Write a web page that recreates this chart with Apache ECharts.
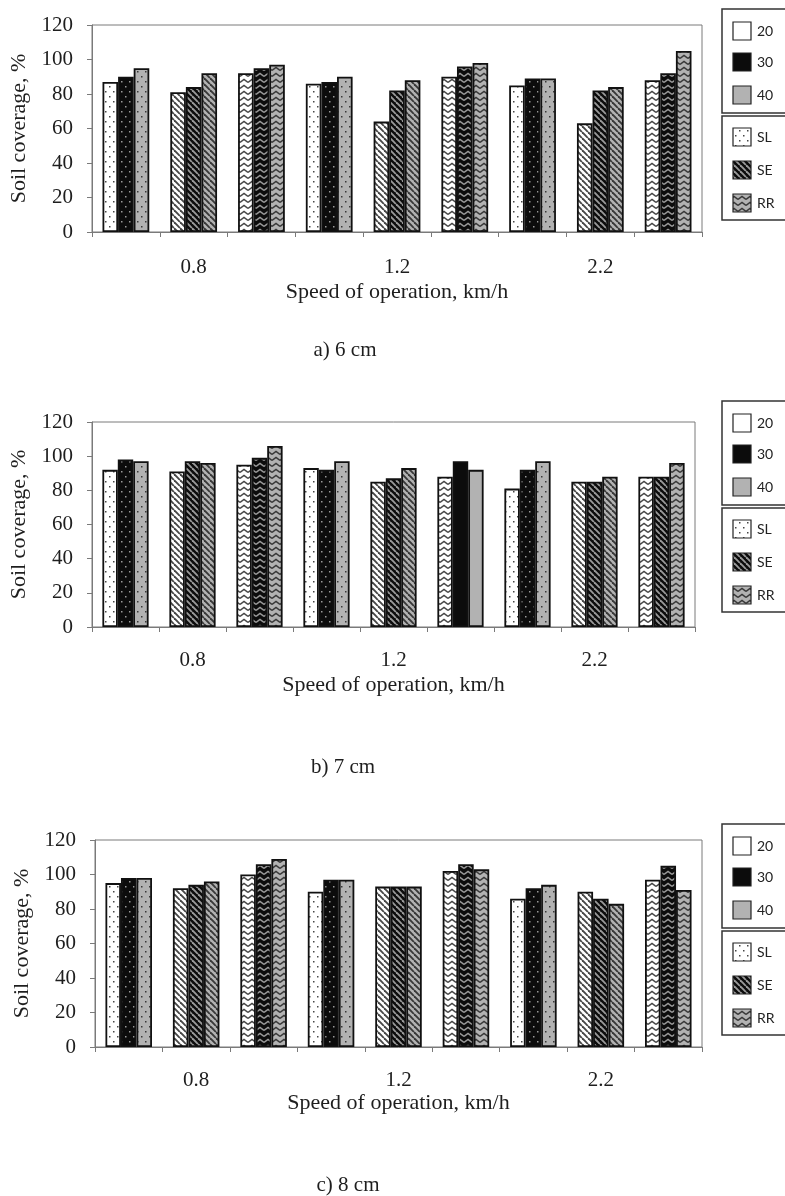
<!DOCTYPE html>
<html>
<head>
<meta charset="utf-8">
<script src="https://cdn.jsdelivr.net/npm/echarts@6/dist/echarts.min.js"></script>
<style>
  html, body { margin: 0; padding: 0; background: #ffffff; }
  #chart { width: 785px; height: 1196px; }
</style>
</head>
<body>
<div id="chart"></div>
<script>
// Speeds and implements form the 9 categories of each panel (speed × implement)
const speeds = ['0.8', '1.2', '2.2'];
const implementsList = ['SL', 'SE', 'RR'];
const depthSeries = ['20', '30', '40'];
const panelTitles = ['a) 6 cm', 'b) 7 cm', 'c) 8 cm'];
const yTicks = [0, 20, 40, 60, 80, 100, 120];

// Soil coverage, % — panel a) 6 cm
const cov6_20 = [87, 81, 92, 86, 64, 90, 85, 63, 88];
const cov6_30 = [90, 84, 95, 87, 82, 96, 89, 82, 92];
const cov6_40 = [95, 92, 97, 90, 88, 98, 89, 84, 105];

// Soil coverage, % — panel b) 7 cm
const cov7_20 = [92, 91, 95, 93, 85, 88, 81, 85, 88];
const cov7_30 = [98, 97, 99, 92, 87, 97, 92, 85, 88];
const cov7_40 = [97, 96, 106, 97, 93, 92, 97, 88, 96];

// Soil coverage, % — panel c) 8 cm
const cov8_20 = [95, 92, 100, 90, 93, 102, 86, 90, 97];
const cov8_30 = [98, 94, 106, 97, 93, 106, 92, 86, 105];
const cov8_40 = [98, 96, 109, 97, 93, 103, 94, 83, 91];

// Bars in panel b whose texture differs from their category's implement
const textureOverrides7 = { 5: ['RR', 'plain', 'plain'], 8: ['RR', 'SE', 'RR'] };

const panelValues = [
  [cov6_20, cov6_30, cov6_40],
  [cov7_20, cov7_30, cov7_40],
  [cov8_20, cov8_30, cov8_40]
];
const panelOverrides = [{}, textureOverrides7, {}];

const categories = speeds.flatMap(s => implementsList.map(m => s + ' ' + m));

// ---------- fill textures ----------
const shadeBase = { '20': '#ffffff', '30': '#0c0c0c', '40': '#b2b2b2' };
const shadeInk = { '20': '#474747', '30': '#9a9a9a', '40': '#383838' };
const textureCache = {};
function texture(kind, shade) {
  const key = kind + shade;
  if (textureCache[key]) return textureCache[key];
  const base = shadeBase[shade], ink = shadeInk[shade];
  const c = document.createElement('canvas');
  let ctx;
  if (kind === 'SL') {
    c.width = 8; c.height = 10; ctx = c.getContext('2d');
    ctx.fillStyle = base; ctx.fillRect(0, 0, 8, 10);
    ctx.fillStyle = ink;
    ctx.fillRect(1, 1, 1.5, 1.5); ctx.fillRect(5, 6, 1.5, 1.5);
  } else if (kind === 'SE') {
    c.width = 6; c.height = 6; ctx = c.getContext('2d');
    ctx.fillStyle = base; ctx.fillRect(0, 0, 6, 6);
    ctx.strokeStyle = ink; ctx.lineWidth = 1.9;
    for (const k of [-6, 0, 6]) {
      ctx.beginPath(); ctx.moveTo(k, 0); ctx.lineTo(k + 6, 6); ctx.stroke();
    }
  } else if (kind === 'RR') {
    c.width = 8; c.height = 6; ctx = c.getContext('2d');
    ctx.fillStyle = base; ctx.fillRect(0, 0, 8, 6);
    ctx.strokeStyle = ink; ctx.lineWidth = 1.5;
    ctx.beginPath(); ctx.moveTo(0, 4.5); ctx.lineTo(4, 1.5); ctx.lineTo(8, 4.5); ctx.stroke();
  } else {
    c.width = 4; c.height = 4; ctx = c.getContext('2d');
    ctx.fillStyle = base; ctx.fillRect(0, 0, 4, 4);
  }
  const pat = { image: c, repeat: 'repeat' };
  textureCache[key] = pat;
  return pat;
}

// ---------- layout of the three panels ----------
const panels = [
  { left: 92, top: 25, width: 610, height: 207, labelMargin: 25, nameGap: 49, legendTop: 9, subY: 350, subX: 345 },
  { left: 92, top: 422, width: 603, height: 205, labelMargin: 23, nameGap: 47, legendTop: 401, subY: 767, subX: 343 },
  { left: 95, top: 840, width: 607, height: 207, labelMargin: 23, nameGap: 45, legendTop: 824, subY: 1185, subX: 348 }
];

const serif = 'Liberation Serif';
const textColor = '#1e1e1e';
const axisGray = '#7a7a7a';

const grids = [], xAxes = [], yAxes = [], series = [], graphics = [];

panels.forEach((p, pi) => {
  grids.push({
    left: p.left, top: p.top, width: p.width, height: p.height,
    show: true, borderColor: axisGray, borderWidth: 1, backgroundColor: 'transparent'
  });
  xAxes.push({
    type: 'category', gridIndex: pi, data: categories,
    name: 'Speed of operation, km/h', nameLocation: 'middle', nameGap: p.nameGap,
    nameTextStyle: { fontFamily: serif, fontSize: 22, color: textColor },
    axisLine: { lineStyle: { color: axisGray, width: 1 } },
    axisTick: { show: true, interval: 0, length: 5, lineStyle: { color: axisGray } },
    axisLabel: {
      interval: 0, margin: p.labelMargin, fontFamily: serif, fontSize: 21, color: textColor,
      formatter: (v) => { const [s, m] = v.split(' '); return m === 'SE' ? s : ''; }
    },
    splitLine: { show: false }
  });
  yAxes.push({
    type: 'value', gridIndex: pi, min: yTicks[0], max: yTicks[yTicks.length - 1], interval: 20,
    name: 'Soil coverage, %', nameLocation: 'middle', nameRotate: 90, nameGap: 55,
    nameTextStyle: { fontFamily: serif, fontSize: 22, color: textColor },
    axisLine: { show: true, lineStyle: { color: axisGray, width: 1 } },
    axisTick: { show: true, length: 5, lineStyle: { color: axisGray } },
    axisLabel: { margin: 19, fontFamily: serif, fontSize: 21, color: textColor },
    splitLine: { show: false }
  });

  depthSeries.forEach((d, di) => {
    const vals = panelValues[pi][di];
    series.push({
      type: 'bar', name: d, xAxisIndex: pi, yAxisIndex: pi,
      barGap: '0%', barCategoryGap: '31%',
      itemStyle: { borderColor: '#111', borderWidth: 1.8 },
      emphasis: { disabled: true },
      data: vals.map((v, ci) => {
        const ov = panelOverrides[pi][ci];
        const kind = ov ? ov[di] : implementsList[ci % 3];
        return { value: v, itemStyle: { color: texture(kind, d) } };
      })
    });
  });

  // legend boxes: depth shades, then implement textures
  const rows = [
    { label: '20', fill: texture('plain', '20'), cy: 22 },
    { label: '30', fill: texture('plain', '30'), cy: 53 },
    { label: '40', fill: texture('plain', '40'), cy: 86 },
    { label: 'SL', fill: texture('SL', '20'), cy: 128 },
    { label: 'SE', fill: texture('SE', '30'), cy: 161 },
    { label: 'RR', fill: texture('RR', '40'), cy: 194 }
  ];
  const children = [
    { type: 'rect', shape: { x: 0, y: 0, width: 80, height: 104 }, style: { fill: '#fff', stroke: '#333', lineWidth: 1.5 } },
    { type: 'rect', shape: { x: 0, y: 107, width: 80, height: 104 }, style: { fill: '#fff', stroke: '#333', lineWidth: 1.5 } }
  ];
  rows.forEach(r => {
    children.push({ type: 'rect', shape: { x: 11, y: r.cy - 9, width: 18, height: 18 }, style: { fill: r.fill, stroke: '#222', lineWidth: 1.2 } });
    children.push({ type: 'text', x: 35, y: r.cy, style: { text: r.label, font: '14px Lato', fill: '#222', verticalAlign: 'middle' } });
  });
  graphics.push({ type: 'group', x: 722, y: p.legendTop, children });
  graphics.push({
    type: 'text', x: p.subX, y: p.subY,
    style: { text: panelTitles[pi], font: '21px "Liberation Serif"', fill: textColor, align: 'center', verticalAlign: 'middle' }
  });
});

const chart = echarts.init(document.getElementById('chart'), null, { renderer: 'canvas' });
chart.setOption({
  backgroundColor: '#ffffff',
  animation: false,
  grid: grids,
  xAxis: xAxes,
  yAxis: yAxes,
  series,
  graphic: graphics
});
</script>
</body>
</html>
